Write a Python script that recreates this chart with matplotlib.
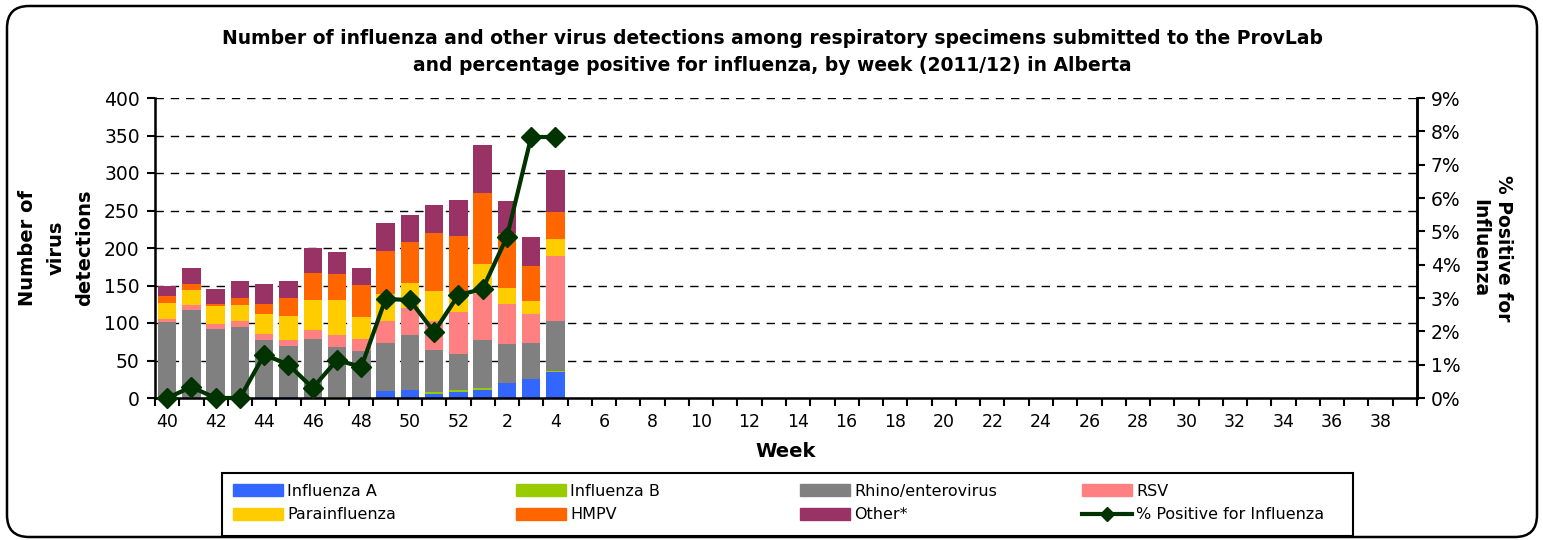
import matplotlib
matplotlib.use("Agg")
import matplotlib.pyplot as plt
import matplotlib.patches as mpatches
from matplotlib.lines import Line2D
import numpy as np

plt.rcParams['font.family'] = ['DejaVu Sans']

# weeks of the 2011/12 season (40..52, 1..39)
weeks = list(range(40, 53)) + list(range(1, 40))

# detections by week (only weeks 40..4 reported so far)
flu_a = [0, 0, 0, 0, 2, 2, 0, 0, 1, 9, 11, 6, 8, 11, 20, 25, 35]
flu_b = [0, 0, 0, 0, 0, 0, 0, 1, 0, 0, 0, 2, 3, 2, 0, 0, 1]
rhino = [101, 117, 92, 95, 75, 67, 79, 67, 62, 64, 73, 56, 48, 64, 52, 48, 67]
rsv = [4, 7, 7, 8, 8, 8, 12, 16, 16, 30, 36, 39, 56, 62, 53, 39, 86]
para = [22, 20, 24, 21, 27, 32, 40, 47, 29, 36, 33, 40, 25, 40, 22, 17, 23]
hmpv = [9, 8, 3, 9, 13, 24, 36, 34, 43, 57, 55, 77, 76, 94, 73, 47, 36]
other = [14, 21, 19, 23, 27, 23, 33, 30, 22, 37, 36, 37, 48, 64, 43, 39, 56]
pct_pos = [0.0, 0.33, 0.0, 0.0, 1.3, 1.0, 0.3, 1.14, 0.93, 2.97, 2.94, 1.98, 3.09, 3.27, 4.83, 7.83, 7.83]

series = [
    ("Influenza A", flu_a, "#3366FF"),
    ("Influenza B", flu_b, "#99CC00"),
    ("Rhino/enterovirus", rhino, "#808080"),
    ("RSV", rsv, "#FF8080"),
    ("Parainfluenza", para, "#FFCC00"),
    ("HMPV", hmpv, "#FF6600"),
    ("Other*", other, "#993366"),
]
line_color = "#003300"
line_label = "% Positive for Influenza"

W, H = 1543, 540
fig = plt.figure(figsize=(W / 100, H / 100), dpi=100)
ax = fig.add_axes([155 / W, 1 - 398 / H, (1417 - 155) / W, 300 / H])

n = len(flu_a)
x = np.arange(n)
bottom = np.zeros(n)
handles = {}
for name, vals, col in series:
    ax.bar(x, vals, 0.76, bottom=bottom, color=col, zorder=2)
    bottom += np.array(vals)
    handles[name] = mpatches.Patch(color=col, label=name)

ax.set_xlim(-0.5, len(weeks) - 0.5)
ax.set_ylim(0, 400)
ax.set_yticks(range(0, 401, 50))
ax.tick_params(axis='y', labelsize=13.5, length=6, width=1.5, direction='out', pad=5)
for y in range(50, 401, 50):
    ax.axhline(y, color='black', lw=1, ls=(0, (6, 5)), zorder=1)

# labels at every other week, tick marks between categories
ax.set_xticks(np.arange(0, len(weeks), 2))
ax.set_xticklabels([str(w) for w in weeks[::2]])
ax.set_xticks(np.arange(len(weeks) + 1) - 0.5, minor=True)
ax.tick_params(axis='x', which='major', length=0, labelsize=12.5, pad=11)
ax.tick_params(axis='x', which='minor', length=6, width=1.5, direction='out')
ax.spines['top'].set_visible(False)
for s in ['left', 'bottom', 'right']:
    ax.spines[s].set_linewidth(1.8)

ax.set_xlabel("Week", fontsize=14, fontweight='bold', labelpad=8)
ax.set_ylabel("Number of\nvirus\ndetections", fontsize=14, fontweight='bold',
              labelpad=7, linespacing=1.65)

ax2 = ax.twinx()
ax2.set_ylim(0, 9)
ax2.set_yticks(range(0, 10))
ax2.set_yticklabels([f"{v}%" for v in range(0, 10)])
ax2.tick_params(axis='y', labelsize=13.5, length=6, width=1.5, direction='out', pad=4)
ax2.spines['top'].set_visible(False)
ax2.spines['right'].set_linewidth(1.8)
ax2.plot(x, pct_pos, color=line_color, lw=3, marker='D', ms=10, zorder=5, clip_on=False)
ax2.set_ylabel("% Positive for\nInfluenza", fontsize=13.5, fontweight='bold', rotation=270,
               labelpad=38, linespacing=1.35)

fig.suptitle("Number of influenza and other virus detections among respiratory specimens submitted to the ProvLab\n"
             "and percentage positive for influenza, by week (2011/12) in Alberta",
             x=772 / W, y=1 - 29 / H, fontsize=13.5, fontweight='bold', va='top', linespacing=1.55)

# legend: four equal columns, filled row-wise, inside one frame
line_handle = Line2D([], [], color=line_color, lw=3, marker='D', ms=7)
columns = [
    [handles["Influenza A"], handles["Parainfluenza"]],
    [handles["Influenza B"], handles["HMPV"]],
    [handles["Rhino/enterovirus"], handles["Other*"]],
    [handles["RSV"], line_handle],
]
col_labels = [
    ["Influenza A", "Parainfluenza"],
    ["Influenza B", "HMPV"],
    ["Rhino/enterovirus", "Other*"],
    ["RSV", line_label],
]
col_x = [233, 516, 800, 1082]
for hs, ls, cx in zip(columns, col_labels, col_x):
    fig.legend(hs, ls, loc='center left', bbox_to_anchor=(cx / W, 1 - 503 / H),
               fontsize=11.5, frameon=False, handlelength=3.1, handleheight=0.75,
               borderpad=0, labelspacing=0.55, handletextpad=0.3, borderaxespad=0)

frame = mpatches.Rectangle((222, H - 536), 1353 - 222, 536 - 473, transform=None,
                           fill=False, edgecolor='black', lw=1.5)
fig.add_artist(frame)

border = mpatches.FancyBboxPatch((7, 3), 1530, 531, boxstyle="round,pad=0,rounding_size=22",
                                 transform=None, fill=False, edgecolor='black', lw=1.8)
fig.add_artist(border)

fig.savefig("out.png", dpi=100)
